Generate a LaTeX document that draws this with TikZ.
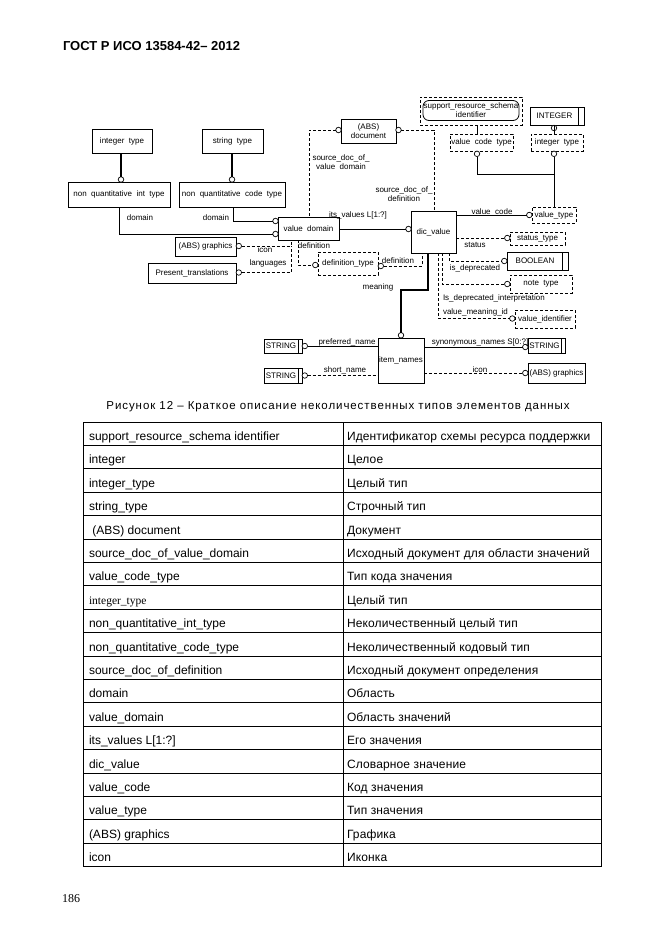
\documentclass[tikz,border=0pt]{standalone}
\usepackage{fontspec}
\setmainfont{Liberation Sans}
\newfontfamily\serifrm{Liberation Serif}
\newfontfamily\rus[LetterSpace=1.2]{Liberation Sans}
\newfontfamily\capfont[LetterSpace=8]{Liberation Sans}
\begin{document}
\begin{tikzpicture}[x=1pt,y=-1pt,
 every node/.style={inner sep=0pt,outer sep=0pt},
 ent/.style={draw,line width=0.8pt,font=\fontsize{8}{9}\selectfont,align=center},
 dent/.style={ent,dash pattern=on 3pt off 2pt},
 lbl/.style={font=\fontsize{8}{9}\selectfont,align=center},
 conn/.style={line width=0.7pt},
 dconn/.style={conn,dash pattern=on 3pt off 2pt},
 tconn/.style={line width=2pt},
 ring/.style={circle,draw,fill=white,line width=0.7pt,minimum size=5.5pt},
 cell/.style={font=\fontsize{12}{14}\selectfont,anchor=base west},
 rcell/.style={cell,font=\rus\fontsize{12}{14}\selectfont},
 grid/.style={line width=0.8pt},
]
\useasboundingbox (0,0) rectangle (661,935);
\fill[white] (0,0) rectangle (661,935);

% header
\node[anchor=base west,font=\bfseries\fontsize{13}{15}\selectfont] (hdr) at (63,50) {ГОСТ Р ИСО 13584-42– 2012};

% ---------------- entities ----------------
\node[ent,minimum width=60,minimum height=24] (inttype) at (122,141) {integer\ \ type};
\node[ent,minimum width=61,minimum height=24] (strtype) at (232.5,141) {string\ \ type};
\node[ent,minimum width=102,minimum height=25] (nqint) at (119,194.5) {non\ \ quantitative\ \ int\ \ type};
\node[ent,minimum width=106,minimum height=25] (nqcode) at (232,194.5) {non\ \ quantitative\ \ code\ \ type};
\node[ent,minimum width=61,minimum height=23] (vdom) at (308.5,228.5) {value\ \ domain};
\node[ent,minimum width=45,minimum height=42] (dicv) at (433.5,232) {dic\_value};
\node[ent,minimum width=55,minimum height=24] (absdoc) at (368.5,131) {(ABS)\\document};
\node[dent,minimum width=102,minimum height=28] (srsi) at (471,111) {};
\node[ent,rounded corners=6pt,minimum width=96,minimum height=20] (srsin) at (471,110.5) {support\_resource\_schema\\identifier};
\node[dent,minimum width=63,minimum height=17] (vct) at (481.5,142.5) {value\ \ code\ \ type};
\node[dent,minimum width=52,minimum height=17] (intt2) at (557,142.5) {integer\ \ type};
\node[ent,minimum width=54,minimum height=18] (intg) at (557,116) {INTEGER\hspace{5pt}};
\draw[line width=0.8pt] ([xshift=-6pt]intg.north east) -- ([xshift=-6pt]intg.south east);
\node[dent,minimum width=44,minimum height=16] (vtype) at (554,215) {value\_type};
\node[dent,minimum width=55,minimum height=13] (stype) at (537.5,238.5) {status\_type};
\node[ent,minimum width=61,minimum height=18] (bool) at (537.5,261) {BOOLEAN\hspace{5pt}};
\draw[line width=0.8pt] ([xshift=-6pt]bool.north east) -- ([xshift=-6pt]bool.south east);
\node[dent,minimum width=62,minimum height=18] (ntype) at (541,284) {note\ \ type};
\node[dent,minimum width=60,minimum height=18] (vid) at (545,319) {value\_identifier};
\node[ent,minimum width=61,minimum height=19] (absgr1) at (205.5,246.5) {(ABS) graphics};
\node[ent,minimum width=88,minimum height=20] (ptrans) at (192,273) {Present\_translations};
\node[dent,minimum width=60,minimum height=23] (deftype) at (348,263.5) {definition\_type};
\node[ent,minimum width=46,minimum height=45] (itemn) at (401,360.5) {item\_names};
\node[ent,minimum width=38,minimum height=14] (strL1) at (283,346) {STRING\hspace{4pt}};
\draw[line width=0.8pt] ([xshift=-4pt]strL1.north east) -- ([xshift=-4pt]strL1.south east);
\node[ent,minimum width=38,minimum height=15] (strL2) at (283,375.5) {STRING\hspace{4pt}};
\draw[line width=0.8pt] ([xshift=-4pt]strL2.north east) -- ([xshift=-4pt]strL2.south east);
\node[ent,minimum width=37,minimum height=15] (strR) at (546.5,345.5) {STRING\hspace{4pt}};
\draw[line width=0.8pt] ([xshift=-4pt]strR.north east) -- ([xshift=-4pt]strR.south east);
\node[ent,minimum width=57,minimum height=20] (absgr2) at (556.5,373) {(ABS) graphics};

% ---------------- rings ----------------
\node[ring] (rint) at (121,179.5) {};
\node[ring] (rstr) at (232,179.5) {};
\node[ring] (rvd1) at (275.5,221) {};
\node[ring] (rvd2) at (275.5,234) {};
\node[ring] (rdic) at (408.5,229) {};
\node[ring] (rdocl) at (338.5,130) {};
\node[ring] (rdocr) at (398.5,130) {};
\node[ring] (rintg) at (554,128) {};
\node[ring] (rvct) at (477,153.8) {};
\node[ring] (rit2) at (554,153.8) {};
\node[ring] (rvt) at (529.3,215) {};
\node[ring] (rst) at (507.3,238) {};
\node[ring] (rbool) at (504.3,261) {};
\node[ring] (rnt) at (507.3,284) {};
\node[ring] (rvid) at (512.3,318.5) {};
\node[ring] (rgr1) at (238.8,246) {};
\node[ring] (rpt) at (238.8,272.5) {};
\node[ring] (rdtl) at (315.3,265) {};
\node[ring] (rdtr) at (380.8,266) {};
\node[ring] (ritem) at (401,335.3) {};
\node[ring] (rsL1) at (304.8,346) {};
\node[ring] (rsL2) at (304.8,375.5) {};
\node[ring] (rsR) at (525.3,347) {};
\node[ring] (rgr2) at (525.3,373) {};

% ---------------- connectors ----------------
\draw[tconn] (inttype.south -| rint) -- (rint.north);
\draw[tconn] (strtype.south -| rstr) -- (rstr.north);
\draw[conn] (nqint.south) -- (nqint.south |- rvd2) -- (rvd2.west);
\draw[conn] (nqcode.south -| 233,0) -- (233,221) -- (rvd1.west);
\draw[conn] (vdom.east |- rdic) -- (rdic.west);
\draw[dconn] (rdocl.west) -- (309,130) -- (vdom.north -| 309,0);
\draw[dconn] (rdocr.east) -- (434,130) -- (dicv.north -| 434,0);
\draw[conn] (rvct |- srsi.south) -- (rvct |- vct.north);
\draw[conn] (intg.south -| rintg) -- (rintg |- intt2.north);
\draw[conn] (rvct.south) -- (477,174) -- (554,174);
\draw[conn] (rit2.south) -- (rit2 |- vtype.north);
\draw[conn] (dicv.east |- rvt) -- (rvt.west);
\draw[dconn] (dicv.east |- rst) -- (rst.west);
\draw[dconn] (dicv.south -| 449,0) -- (449,261) -- (rbool.west);
\draw[dconn] (dicv.south -| 442,0) -- (442,284) -- (rnt.west);
\draw[dconn] (dicv.south -| 438,0) -- (438,318.5) -- (rvid.west);
\draw[tconn] (dicv.south -| 428,0) -- (428,290) -- (401,290) -- (ritem.north);
\draw[dconn] (vdom.south -| 298,0) -- (298,265) -- (rdtl.west);
\draw[dconn] (rdtr.east) -- (422,266) -- (dicv.south -| 422,0);
\draw[dconn] (rgr1.east) -- (291,246) -- (vdom.south -| 291,0);
\draw[dconn] (rpt.east) -- (291,272.5) -- (291,246);
\draw[conn] (rsL1.east) -- (itemn.west |- rsL1);
\draw[dconn] (rsL2.east) -- (itemn.west |- rsL2);
\draw[conn] (itemn.east |- rsR) -- (rsR.west);
\draw[dconn] (itemn.east |- rgr2) -- (rgr2.west);

% ---------------- labels ----------------
\node[lbl] (ldom1) at (140,218) {domain};
\node[lbl] (ldom2) at (216,218) {domain};
\node[lbl] (lits) at (358,215) {its\_values L[1:?]};
\node[lbl] (lsdv) at (341,162.5) {source\_doc\_of\_\\value\ \ domain};
\node[lbl] (lsdd) at (404,194.5) {source\_doc\_of\_\\definition};
\node[lbl] (licon1) at (265,250) {icon};
\node[lbl] (llang) at (268,263) {languages};
\node[lbl] (ldef1) at (314,246) {definition};
\node[lbl] (ldef2) at (398,261) {definition};
\node[lbl] (lmean) at (378,287) {meaning};
\node[lbl] (lvc) at (492,212) {value\_code};
\node[lbl] (lst) at (475,245) {status};
\node[lbl] (lisd) at (475,268) {is\_deprecated};
\node[lbl,anchor=west] (lisdi) at (443,298) {Is\_deprecated\_interpretation};
\node[lbl,anchor=west] (lvmi) at (443,312) {value\_meaning\_id};
\node[lbl] (lpn) at (347,342) {preferred\_name};
\node[lbl] (lsn) at (345,370) {short\_name};
\node[lbl] (lsyn) at (480,342) {synonymous\_names S[0:?]};
\node[lbl] (licon2) at (480,370) {icon};

% caption
\node[font=\capfont\fontsize{11.5}{13}\selectfont] (cap) at (338,407) {Рисунок 12 – Краткое описание неколичественных типов элементов данных};

% ---------------- table ----------------
\def\tt{422}
\def\rh{23.4}
\foreach \i in {0,...,19} {\draw[grid] (83,\tt+\i*\rh) -- (601,\tt+\i*\rh);}
\draw[grid] (83,\tt) -- (83,\tt+19*\rh);
\draw[grid] (343,\tt) -- (343,\tt+19*\rh);
\draw[grid] (601,\tt) -- (601,\tt+19*\rh);
\foreach \a/\b [count=\i from 0] in {
 support\_resource\_schema identifier/Идентификатор схемы ресурса поддержки,
 integer/Целое,
 integer\_type/Целый тип,
 string\_type/Строчный тип,
 \ (ABS) document/Документ,
 source\_doc\_of\_value\_domain/Исходный документ для области значений,
 value\_code\_type/Тип кода значения,
 {\serifrm\fontsize{11.5}{13}\selectfont integer\_type}/Целый тип,
 non\_quantitative\_int\_type/Неколичественный целый тип,
 non\_quantitative\_code\_type/Неколичественный кодовый тип,
 source\_doc\_of\_definition/Исходный документ определения,
 domain/Область,
 value\_domain/Область значений,
 its\_values L[1:?]/Его значения,
 dic\_value/Словарное значение,
 value\_code/Код значения,
 value\_type/Тип значения,
 (ABS) graphics/Графика,
 icon/Иконка} {
 \node[cell] (ca\i) at (89,\tt+\i*\rh+18.5) {\a};
 \node[rcell] (cb\i) at (347,\tt+\i*\rh+18.5) {\b};
}

% page number
\node[anchor=base west,font=\serifrm\fontsize{12}{14}\selectfont] (pg) at (62,902) {186};
\end{tikzpicture}
\end{document}
